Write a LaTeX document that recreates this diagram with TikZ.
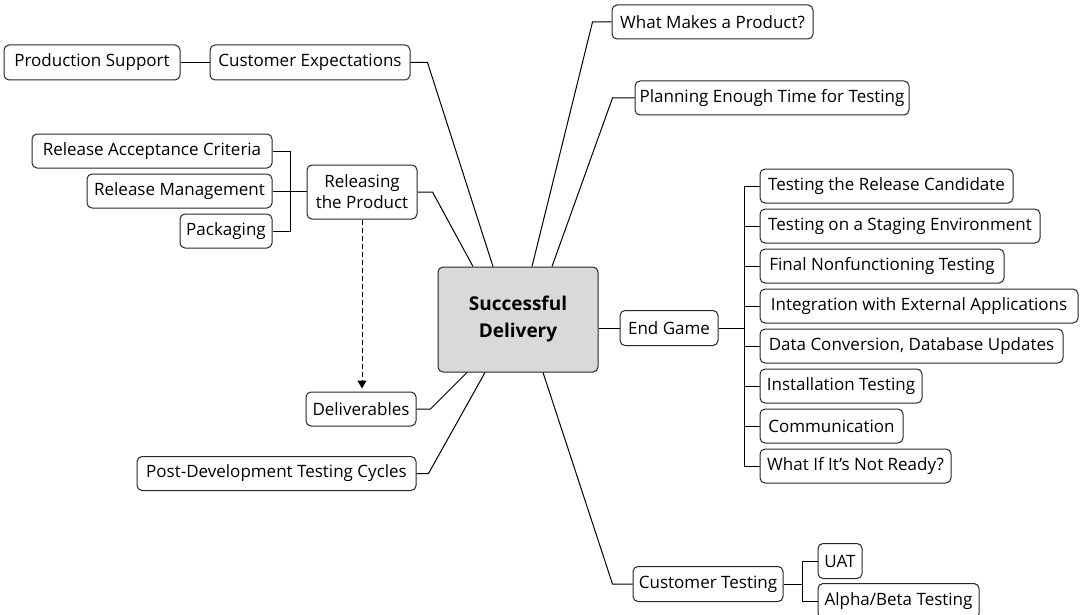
\documentclass[tikz,border=0pt]{standalone}
\usepackage{fontspec}
\setmainfont{Open Sans}
\usetikzlibrary{arrows.meta,calc}
\tikzset{
  box/.style={draw=black!85, line width=1pt, rounded corners=5pt, inner sep=0pt,
    align=center, font=\fontsize{17}{21}\selectfont, fill=white},
  centerbox/.style={box, fill=black!15, font=\bfseries\fontsize{19}{27}\selectfont},
  conn/.style={draw=black, line width=1pt},
}
\newcommand{\bx}[6]{\node[box, minimum width=#4pt, minimum height=#5pt] (#1) at (#2,#3) {#6};}
\begin{document}
\begin{tikzpicture}[x=1pt,y=-1pt]
\useasboundingbox (0,0) rectangle (1083,615);
\fill[white] (0,0) rectangle (1083,615);

% central
\node[centerbox, minimum width=160pt, minimum height=105pt] (cen) at (518,319.5) {Successful\\Delivery};

% left top
\bx{ps}{92}{62.5}{176}{35}{Production Support}
\bx{ce}{310}{62.5}{200}{35}{Customer Expectations}

% right top
\bx{wmp}{712.5}{22}{201}{34}{What Makes a Product?}
\bx{pet}{772}{98}{274}{34}{Planning Enough Time for Testing}

% releasing
\bx{rac}{152}{151}{240}{34}{Release Acceptance Criteria}
\bx{rm}{179.5}{191}{185}{34}{Release Management}
\bx{pkg}{226}{231}{92}{34}{Packaging}
\bx{rel}{362}{192}{110}{54}{Releasing\\the Product}

% bottom left
\bx{del}{361}{409}{110}{34}{Deliverables}
\bx{pdtc}{276.5}{473.5}{279}{34}{Post-Development Testing Cycles}

% end game
\bx{eg}{669}{328}{98}{35}{End Game}
\bx{e1}{886.5}{186}{253}{34}{Testing the Release Candidate}
\bx{e2}{900}{226}{280}{34}{Testing on a Staging Environment}
\bx{e3}{882}{266}{244}{34}{Final Nonfunctioning Testing}
\bx{e4}{919}{306}{318}{34}{Integration with External Applications}
\bx{e5}{911.5}{346}{303}{34}{Data Conversion, Database Updates}
\bx{e6}{841}{386}{162}{34}{Installation Testing}
\bx{e7}{831.5}{426}{143}{34}{Communication}
\bx{e8}{855.5}{466}{191}{34}{What If It’s Not Ready?}

% customer testing
\bx{ct}{708}{584}{150}{35}{Customer Testing}
\bx{uat}{840}{561}{44}{35}{UAT}
\bx{ab}{898.5}{601}{161}{35}{Alpha/Beta Testing}

% connectors
\draw[conn] (ps.east) -- (ce.west);
\draw[conn] (ce.east) -- ++(17,0) -- ([xshift=-25pt]cen.north);
\draw[conn] (wmp.west) -- ++(-19,0) -- ([xshift=14pt]cen.north);
\draw[conn] (pet.west) -- ++(-22,0) -- ([xshift=34pt]cen.north);
\draw[conn] (rel.east) -- ++(15,0) -- ([xshift=-45pt]cen.north);

\coordinate (rb) at ($(rac.east)+(18,0)$);
\draw[conn] (rac.east) -- (rac.east -| rb) -- (pkg.east -| rb) -- (pkg.east);
\draw[conn] (rm.east) -- (rm.east -| rel.west);

\draw[conn, dashed, dash pattern=on 5pt off 3pt, -{Triangle[width=9pt,length=8pt]}, shorten >=3pt]
  (rel.south) -- (rel.south |- del.north);

\draw[conn] (del.east) -- ++(14,0) -- ([xshift=-51pt]cen.south);
\draw[conn] (pdtc.east) -- ++(12,0) -- ([xshift=-33pt]cen.south);
\draw[conn] ([xshift=25pt]cen.south) -- ([xshift=-20pt]ct.west) -- (ct.west);

\draw[conn] (cen.east |- eg.west) -- (eg.west);
\coordinate (egb) at ($(eg.east)+(26,0)$);
\draw[conn] (eg.east) -- (egb);
\draw[conn] (e1.west) -- (e1.west -| egb) -- (e8.west -| egb) -- (e8.west);
\foreach \n in {e2,e3,e4,e5,e6,e7} { \draw[conn] (\n.west) -- (\n.west -| egb); }

\coordinate (cb) at ($(ct.east)+(19,0)$);
\draw[conn] (ct.east) -- (ct.east -| cb);
\draw[conn] (uat.west) -- (uat.west -| cb) -- (ab.west -| cb) -- (ab.west);
\end{tikzpicture}
\end{document}
